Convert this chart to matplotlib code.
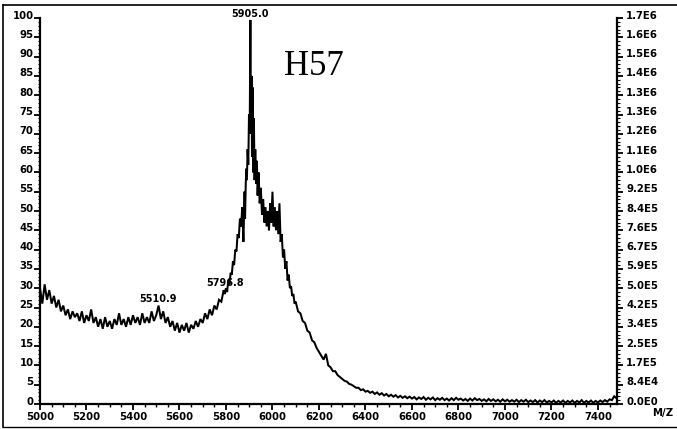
import numpy as np
import matplotlib
matplotlib.use("Agg")
import matplotlib.pyplot as plt
from matplotlib.lines import Line2D
from matplotlib.ticker import MultipleLocator, FixedLocator
from matplotlib.transforms import ScaledTranslation

# ---- data ----
# low-mass baseline, 10 Da grid
mz_low = np.arange(5000, 5791, 10)
int_low = [30, 26, 31, 27, 29.5, 26, 28, 25, 27, 24,
           25.5, 23, 24.5, 22, 24, 22.5, 23.5, 21.5, 24, 21,
           23, 21.5, 24.5, 21, 22.5, 20, 22, 19.5, 22.5, 20,
           21.5, 19.5, 22, 20.5, 23.5, 20.5, 22, 20, 22.5, 20.5,
           23, 21, 22.5, 20.5, 23.5, 21, 22.5, 21, 24, 21.5,
           23, 25.5, 22, 24, 21, 22.5, 20, 21.5, 19, 21,
           18.5, 20.5, 19, 21, 18.5, 20.5, 19.5, 21.5, 20, 22,
           21, 23.5, 22, 24.5, 23, 25.5, 24.5, 27, 26.5, 29.5]

# main peak region, finer sampling
mz_peak = [5795, 5800, 5805, 5810, 5815, 5820, 5825, 5830, 5835, 5840,
           5845, 5850, 5855, 5860, 5865, 5870, 5875, 5880,
           5882, 5885, 5888, 5890, 5893, 5896, 5899, 5902, 5905, 5907,
           5910, 5912, 5915, 5917, 5920, 5923, 5926, 5930, 5933, 5936, 5940,
           5945, 5950, 5955, 5960, 5965, 5970, 5975, 5980, 5985, 5990,
           5995, 6000, 6005, 6010, 6015, 6020, 6025, 6030, 6035, 6040,
           6045, 6050, 6055, 6060, 6065, 6070, 6075, 6080, 6085, 6090,
           6095, 6100]
int_peak = [28.5, 30, 29, 32, 31, 34, 33.5, 37, 36, 40,
            39.5, 44, 43, 48, 46, 51, 42, 55,
            48, 57, 61, 58, 66, 62, 75, 70, 99.5, 72,
            85, 64, 82, 60, 74, 58, 66, 57, 63, 54, 60,
            52, 56, 49, 53, 47, 51, 46, 50, 45, 52,
            47, 55, 46, 51, 45, 50, 44, 52, 42, 44,
            38, 40, 35, 37, 32, 33.5, 30, 30.5, 28, 28.5,
            26, 26.5]

# high-mass tail, 10 Da grid
mz_high = np.arange(6110, 7481, 10)
int_high = [24, 23.5, 21.5, 21, 19, 18.5, 16.5, 16, 14.5, 13.5,
            12.5, 11.5, 13, 10, 9.5, 8.5, 8.5, 7.5, 7, 6.5,
            6, 5.8, 5.2, 5, 4.6, 4.2, 4.2, 3.6, 3.8, 3.2,
            3.4, 2.9, 3.2, 2.6, 3, 2.4, 2.8, 2.2, 2.6, 2,
            2.4, 1.9, 2.3, 1.7, 2.1, 1.6, 2.0, 1.5, 1.9, 1.4,
            1.8, 1.2, 1.7, 1.3, 1.8, 1.1, 1.6, 1.2, 1.7, 1.0,
            1.5, 1.1, 1.6, 1.0, 1.4, 0.9, 1.5, 1.0, 1.6, 1.1,
            1.4, 0.9, 1.3, 0.8, 1.4, 0.9, 1.5, 1.0, 1.3, 0.8,
            1.2, 0.7, 1.3, 0.8, 1.2, 0.7, 1.1, 0.6, 1.2, 0.7,
            1.1, 0.6, 1.0, 0.6, 1.1, 0.5, 1.0, 0.6, 1.1, 0.5,
            0.9, 0.5, 1.0, 0.4, 0.9, 0.5, 1.0, 0.4, 0.8, 0.4,
            0.9, 0.3, 0.8, 0.4, 0.9, 0.3, 0.8, 0.4, 0.9, 0.3,
            0.8, 0.4, 1.0, 0.3, 0.8, 0.4, 0.9, 0.3, 0.8, 0.4,
            0.9, 0.5, 1.0, 0.6, 1.2, 1.0, 2.0, 1.5]

x_ticks = [5000, 5200, 5400, 5600, 5800, 6000, 6200, 6400, 6600, 6800, 7000, 7200, 7400]
left_ticks = list(range(0, 101, 5))
right_labels = ["0.0E0", "8.4E4", "1.7E5", "2.5E5", "3.4E5", "4.2E5", "5.0E5",
                "5.9E5", "6.7E5", "7.6E5", "8.4E5", "9.2E5", "1.0E6", "1.1E6",
                "1.2E6", "1.3E6", "1.3E6", "1.4E6", "1.5E6", "1.6E6", "1.7E6"]

peak_labels = ["5510.9", "5796.8", "5905.0"]
peak_label_x = [5507, 5796, 5902]
peak_label_y = [27.3, 31.3, 101.0]

title_text = "H57"

# ---- figure ----
W, H = 677, 429
fig = plt.figure(figsize=(W / 100, H / 100), dpi=100)
fig.patch.set_facecolor("white")

x0, x1 = 40, 617
y_bot, y_top = 404, 18
ax = fig.add_axes([x0 / W, (H - y_bot) / H, (x1 - x0) / W, (y_bot - y_top) / H])

mz = np.concatenate([mz_low, np.array(mz_peak), mz_high])
inten = np.concatenate([int_low, int_peak, int_high])
ax.plot(mz, inten, color="black", lw=1.45, solid_joinstyle="miter")

ax.set_xlim(5000, 7482)
ax.set_ylim(0, 100)

tick_font = dict(family="DejaVu Sans", weight="bold", size=7.3)

for s in ["top", "right"]:
    ax.spines[s].set_visible(False)
for s in ["left", "bottom"]:
    ax.spines[s].set_linewidth(1.6)

ax.xaxis.set_major_locator(FixedLocator(x_ticks))
ax.xaxis.set_minor_locator(MultipleLocator(50))
ax.set_xticklabels([str(v) for v in x_ticks], **tick_font)
ax.yaxis.set_major_locator(FixedLocator(left_ticks))
ax.yaxis.set_minor_locator(MultipleLocator(1))
ax.set_yticklabels([str(v) for v in left_ticks], **tick_font)

ax.tick_params(axis="x", which="major", direction="out", length=4, width=1.3, pad=1.5)
ax.tick_params(axis="x", which="minor", direction="out", length=2.5, width=1.0)
ax.tick_params(axis="y", which="major", direction="out", length=4, width=1.3, pad=0.5)
ax.tick_params(axis="y", which="minor", direction="out", length=1.8, width=0.8)

offset = ScaledTranslation(0, 2.5 / 72, fig.dpi_scale_trans)
for lab in ax.get_yticklabels():
    lab.set_transform(lab.get_transform() + offset)

ax2 = ax.twinx()
ax2.set_ylim(0, 100)
for s in ["top", "left", "bottom"]:
    ax2.spines[s].set_visible(False)
ax2.spines["right"].set_linewidth(1.6)
ax2.yaxis.set_major_locator(FixedLocator(left_ticks))
ax2.yaxis.set_minor_locator(MultipleLocator(1))
ax2.set_yticklabels(right_labels, **tick_font)
ax2.tick_params(axis="y", which="major", direction="out", length=4, width=1.3, pad=2.5)
ax2.tick_params(axis="y", which="minor", direction="out", length=1.8, width=0.8)
for lab in ax2.get_yticklabels():
    lab.set_transform(lab.get_transform() + offset)

# peak annotations
for t, xv, yv in zip(peak_labels, peak_label_x, peak_label_y):
    ax.text(xv, yv, t, ha="center", va="center", clip_on=False,
            family="DejaVu Sans", weight="bold", size=7)

ax.text(0.475, 0.875, title_text, transform=ax.transAxes, ha="center", va="center",
        family="Liberation Serif", size=25)

fig.text(652 / W, 1 - 413 / H, "M/Z", ha="left", va="center", **tick_font)

# scanned outer frame
fig.add_artist(Line2D([3 / W, 1.0], [1 - 5 / H, 1 - 5 / H], color="black", lw=1.2,
                      transform=fig.transFigure))
fig.add_artist(Line2D([3 / W, 3 / W], [1 - 5 / H, 2 / H], color="black", lw=1.2,
                      transform=fig.transFigure))
fig.add_artist(Line2D([3 / W, 1.0], [2 / H, 2 / H], color="black", lw=1.0,
                      transform=fig.transFigure))

fig.savefig("out.png", dpi=100, facecolor="white")
